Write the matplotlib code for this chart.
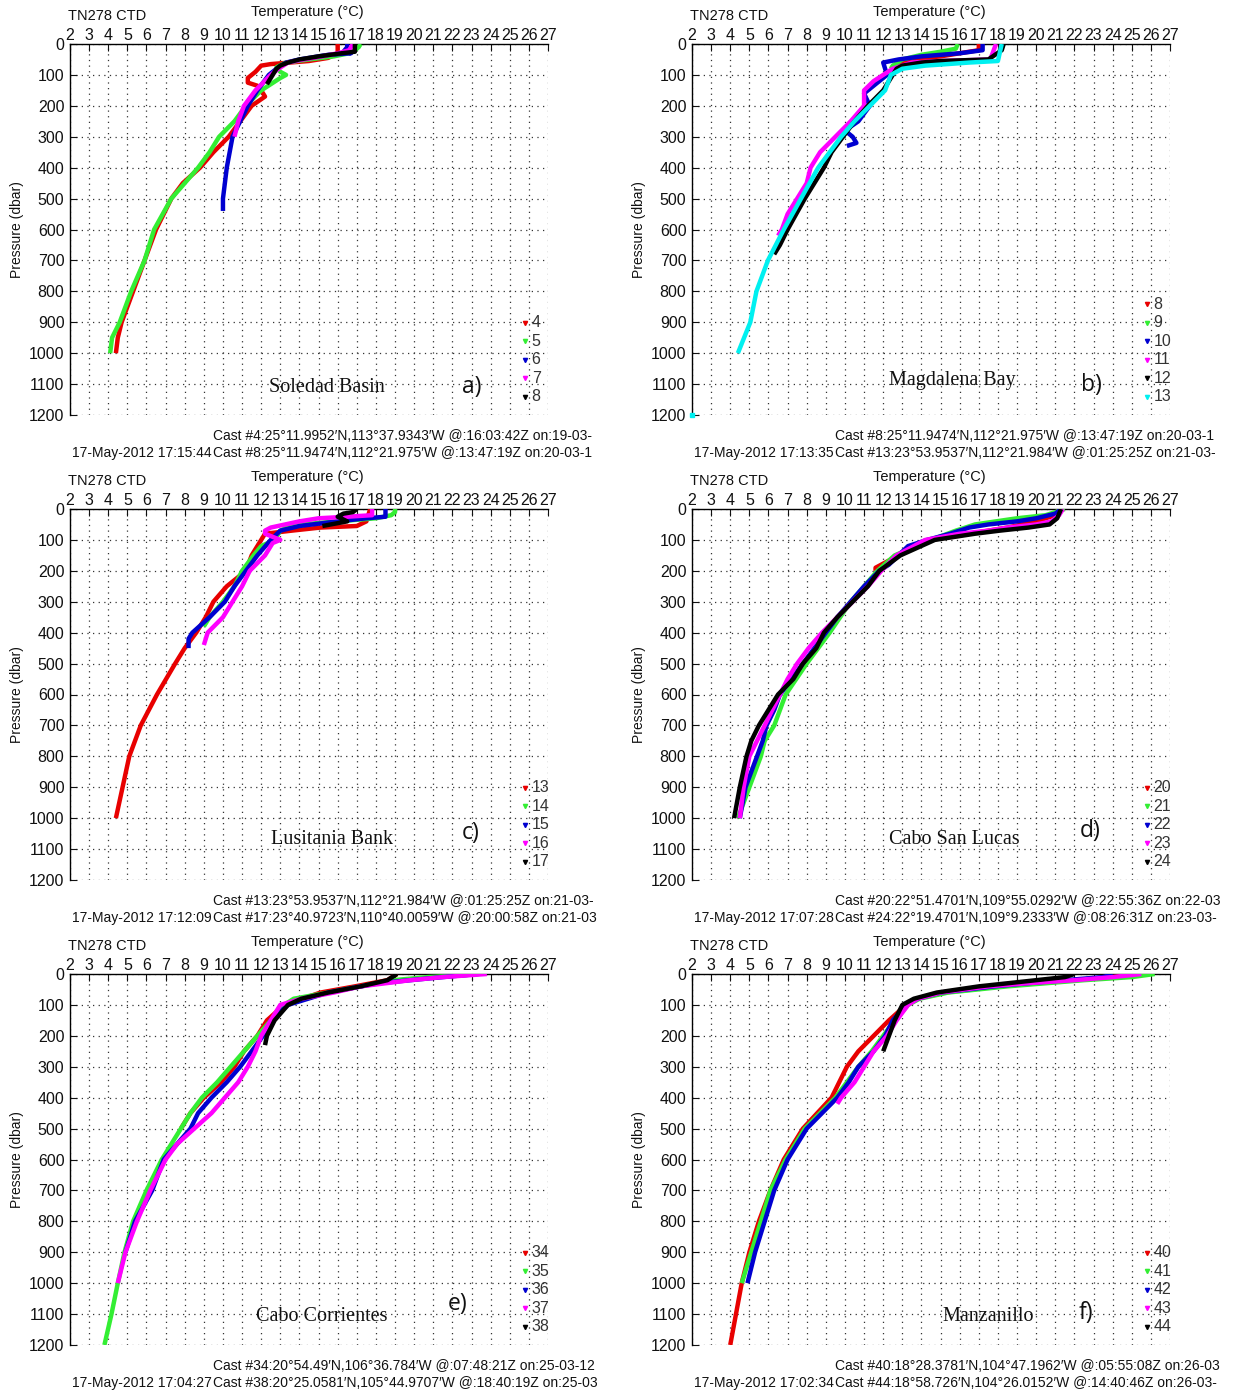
import matplotlib
matplotlib.use("Agg")
import matplotlib.pyplot as plt

W, H = 1243, 1394
SANS = ['Liberation Sans Narrow', 'Liberation Sans', 'DejaVu Sans']
SERIF = ['Liberation Serif', 'DejaVu Serif']
LETTER = ['Open Sans', 'DejaVu Sans']

COLORS = ['#e80000', '#33ee33', '#0000d0', '#ff00ff', '#000000', '#00f0f0']

TEMP_TICKS = list(range(2, 28))
PRES_TICKS = list(range(0, 1201, 100))

# ---------------- Panel a : Soledad Basin ----------------
A_CASTS = ['4', '5', '6', '7', '8']
A_P = [
    [0, 10, 30, 45, 55, 60, 65, 70, 90, 110, 125, 135, 150, 170, 200, 250, 300, 350, 400, 450, 500, 550, 600, 650, 700, 800, 900, 950, 1000],
    [0, 10, 20, 30, 40, 50, 60, 75, 90, 100, 110, 150, 200, 250, 300, 350, 400, 500, 600, 700, 800, 900, 950, 1000],
    [0, 10, 25, 30, 35, 50, 60, 80, 100, 150, 200, 250, 300, 350, 400, 450, 500, 540],
    [0, 20, 30, 40, 50, 60, 80, 100, 150, 200, 250, 300],
    [0, 25, 30, 40, 50, 60, 70, 80, 100, 130],
]
A_T = [
    [16.0, 16.0, 16.0, 15.5, 14.5, 13.5, 12.5, 12.0, 11.7, 11.3, 11.3, 11.8, 12.0, 12.2, 11.5, 10.9, 10.3, 9.5, 8.8, 7.9, 7.3, 6.9, 6.5, 6.2, 5.9, 5.3, 4.7, 4.5, 4.4],
    [17.2, 17.1, 16.9, 16.6, 15.8, 14.5, 13.3, 12.8, 13.0, 13.3, 13.0, 12.0, 11.2, 10.6, 9.8, 9.3, 8.7, 7.3, 6.4, 5.9, 5.2, 4.6, 4.2, 4.1],
    [16.5, 16.5, 16.3, 16.7, 15.5, 14.0, 13.3, 12.8, 12.4, 11.8, 11.3, 10.9, 10.5, 10.35, 10.2, 10.1, 10.0, 10.0],
    [16.8, 16.6, 16.0, 15.2, 14.2, 13.4, 12.9, 12.5, 11.7, 11.1, 10.8, 10.6],
    [16.9, 16.9, 16.2, 15.0, 14.0, 13.4, 13.0, 12.8, 12.6, 12.3],
]

# ---------------- Panel b : Magdalena Bay ----------------
B_CASTS = ['8', '9', '10', '11', '12', '13']
B_P = [
    [0, 20, 25, 40, 50, 60, 80, 100],
    [0, 15, 25, 35, 50, 70, 80],
    [0, 20, 30, 40, 50, 60, 100, 130, 160, 200, 250, 280, 300, 320, 330],
    [0, 50, 55, 60, 80, 100, 120, 150, 200, 250, 300, 350, 400, 450, 500, 550, 600, 620],
    [0, 20, 50, 55, 60, 70, 80, 100, 150, 200, 250, 300, 350, 400, 500, 600, 650, 680],
    [0, 55, 60, 70, 80, 100, 150, 200, 250, 300, 400, 500, 600, 700, 800, 900, 1000],
]
B_T = [
    [17.0, 17.0, 16.5, 15.0, 13.5, 13.0, 12.5, 12.3],
    [15.9, 15.8, 15.0, 14.0, 13.0, 12.5, 12.4],
    [17.2, 17.2, 16.0, 14.0, 12.8, 12.0, 12.2, 11.6, 11.0, 11.3, 10.7, 10.0, 10.4, 10.6, 10.1],
    [17.9, 17.6, 15.0, 13.5, 12.5, 12.0, 11.5, 11.0, 11.0, 10.3, 9.5, 8.7, 8.2, 8.0, 7.5, 7.0, 6.7, 6.5],
    [18.3, 18.2, 17.5, 15.0, 14.0, 13.0, 12.7, 12.5, 12.0, 11.2, 10.5, 9.9, 9.3, 8.9, 7.9, 7.0, 6.6, 6.3],
    [18.2, 18.0, 16.5, 14.2, 13.0, 12.4, 12.1, 11.3, 10.5, 9.8, 8.6, 7.7, 6.8, 5.97, 5.37, 5.05, 4.4],
]
B_EXTRA_P = [1200]
B_EXTRA_T = [2.0]

# ---------------- Panel c : Lusitania Bank ----------------
C_CASTS = ['13', '14', '15', '16', '17']
C_P = [
    [0, 40, 55, 60, 70, 80, 100, 150, 200, 220, 250, 300, 350, 400, 450, 500, 600, 700, 800, 900, 1000],
    [0, 10, 20, 30, 35, 45, 55, 70, 100, 120, 150, 200, 250, 300, 350, 380],
    [0, 25, 30, 40, 55, 70, 100, 150, 200, 250, 300, 350, 400, 420, 450],
    [0, 20, 25, 30, 40, 60, 70, 80, 100, 110, 150, 200, 250, 300, 350, 400, 440],
    [0, 10, 15, 25, 40, 55],
]
C_T = [
    [17.7, 17.5, 17.0, 15.1, 13.6, 12.2, 12.0, 11.5, 11.2, 10.8, 10.2, 9.5, 9.1, 8.6, 8.0, 7.5, 6.55, 5.7, 5.1, 4.75, 4.4],
    [19.0, 19.0, 18.8, 18.0, 17.0, 15.0, 13.5, 13.0, 12.7, 12.0, 11.6, 11.0, 10.6, 10.0, 9.3, 9.0],
    [18.5, 18.5, 17.5, 16.0, 14.0, 13.0, 12.5, 11.8, 11.2, 10.6, 10.1, 9.3, 8.4, 8.2, 8.2],
    [17.8, 17.8, 16.5, 15.0, 14.0, 12.5, 12.2, 12.2, 13.0, 12.6, 12.2, 11.4, 11.0, 10.5, 10.0, 9.2, 9.0],
    [17.0, 16.8, 16.3, 16.0, 16.5, 15.2],
]

# ---------------- Panel d : Cabo San Lucas ----------------
D_CASTS = ['20', '21', '22', '23', '24']
D_P = [
    [0, 20, 40, 60, 80, 100, 150, 180, 190, 200],
    [0, 20, 30, 50, 70, 100, 150, 200, 300, 400, 500, 600, 700, 750, 800, 900, 1000],
    [0, 15, 30, 40, 50, 60, 80, 100, 120, 150, 180, 200, 250, 300, 350, 400, 450, 500, 550, 600, 650, 700, 750, 800, 900, 1000],
    [0, 20, 40, 50, 60, 70, 80, 100, 150, 200, 250, 300, 350, 400, 450, 500, 550, 600, 700, 800, 900, 1000],
    [0, 30, 50, 60, 70, 80, 100, 150, 200, 250, 300, 350, 400, 450, 500, 550, 600, 650, 700, 750, 800, 900, 1000],
]
D_T = [
    [21.2, 21.0, 20.0, 18.5, 16.5, 14.5, 12.8, 11.9, 11.6, 11.6],
    [21.5, 20.5, 19.0, 16.8, 15.8, 14.5, 12.6, 11.7, 10.3, 9.2, 8.0, 6.9, 6.3, 5.8, 5.6, 5.0, 4.4],
    [21.3, 21.0, 20.0, 19.0, 17.5, 16.5, 15.5, 14.3, 13.3, 12.8, 12.3, 11.8, 11.0, 10.3, 9.6, 9.0, 8.4, 7.8, 7.2, 6.6, 6.3, 5.9, 5.7, 5.4, 4.8, 4.5],
    [21.4, 21.2, 20.8, 20.0, 18.5, 17.5, 16.0, 14.2, 12.7, 11.9, 11.2, 10.4, 9.6, 8.8, 8.1, 7.5, 7.0, 6.6, 5.8, 5.0, 4.7, 4.5],
    [21.3, 21.1, 20.7, 19.6, 18.1, 16.8, 14.7, 12.9, 11.8, 11.2, 10.4, 9.6, 8.9, 8.5, 7.8, 7.3, 6.5, 6.0, 5.5, 5.1, 4.85, 4.5, 4.2],
]

# ---------------- Panel e : Cabo Corrientes ----------------
E_CASTS = ['34', '35', '36', '37', '38']
E_P = [
    [0, 20, 40, 60, 100, 150, 200, 250, 300, 350, 400, 450, 500],
    [0, 5, 10, 20, 40, 60, 80, 100, 150, 200, 250, 300, 350, 400, 450, 500, 550, 600, 700, 800, 900, 1000, 1100, 1200],
    [0, 10, 30, 60, 100, 150, 200, 250, 300, 350, 400, 450, 500, 600, 700, 800, 900],
    [0, 10, 20, 40, 60, 80, 100, 150, 200, 250, 300, 350, 400, 450, 500, 550, 600, 700, 800, 900, 1000],
    [0, 20, 40, 60, 80, 100, 150, 200, 230],
]
E_T = [
    [19.1, 18.6, 16.9, 15.1, 13.2, 12.3, 11.8, 11.1, 10.6, 9.9, 9.0, 8.3, 7.8],
    [23.4, 22.4, 20.7, 18.9, 17.2, 15.5, 13.7, 13.2, 12.5, 11.8, 11.1, 10.4, 9.7, 8.9, 8.3, 7.8, 7.3, 6.8, 6.0, 5.3, 4.85, 4.5, 4.17, 3.8],
    [23.3, 21.5, 18.1, 15.5, 13.4, 12.5, 12.1, 11.5, 10.9, 10.2, 9.4, 8.7, 8.3, 6.9, 6.3, 5.4, 4.9],
    [23.8, 21.5, 19.8, 17.2, 15.8, 14.1, 13.0, 12.5, 12.0, 11.7, 11.3, 10.8, 10.1, 9.4, 8.5, 7.6, 7.0, 6.2, 5.5, 4.9, 4.5],
    [19.1, 18.6, 17.2, 15.5, 14.1, 13.4, 12.7, 12.3, 12.2],
]

# ---------------- Panel f : Manzanillo ----------------
F_CASTS = ['40', '41', '42', '43', '44']
F_P = [
    [0, 10, 20, 30, 40, 60, 80, 100, 150, 200, 250, 300, 350, 400, 500, 600, 700, 800, 900, 1000, 1100, 1200],
    [0, 10, 20, 30, 40, 60, 80, 100, 150, 200, 250, 300, 350, 400, 500, 600, 700, 800, 900, 1000],
    [0, 10, 20, 30, 40, 60, 80, 100, 150, 200, 250, 300, 350, 400, 500, 600, 700, 800, 900, 1000],
    [0, 10, 20, 30, 40, 60, 80, 100, 150, 200, 250, 300, 350, 400, 420],
    [0, 10, 20, 30, 40, 60, 80, 100, 150, 200, 250],
]
F_T = [
    [25.5, 24.0, 22.0, 20.0, 18.0, 15.2, 13.8, 13.2, 12.3, 11.5, 10.7, 10.1, 9.7, 9.3, 7.8, 6.8, 6.1, 5.5, 5.0, 4.6, 4.3, 4.0],
    [26.2, 25.0, 22.5, 20.5, 18.5, 15.4, 13.9, 13.3, 12.6, 12.0, 11.4, 10.7, 10.1, 9.5, 7.9, 6.9, 6.1, 5.6, 5.1, 4.6],
    [24.0, 23.5, 21.5, 19.5, 17.8, 15.0, 13.8, 13.2, 12.5, 12.1, 11.5, 10.7, 10.2, 9.6, 8.0, 7.0, 6.3, 5.8, 5.3, 4.9],
    [25.5, 24.0, 22.0, 19.5, 17.5, 15.0, 13.8, 13.3, 12.7, 12.2, 11.5, 11.0, 10.5, 9.8, 9.6],
    [22.0, 21.5, 20.0, 18.5, 17.0, 14.8, 13.6, 13.0, 12.6, 12.3, 12.0],
]

PANELS = [
    dict(casts=A_CASTS, P=A_P, T=A_T, name='Soledad Basin', letter='a)',
         cast1='Cast #4:25°11.9952′N,113°37.9343′W @:16:03:42Z on:19-03-',
         date='17-May-2012 17:15:44',
         cast2='Cast #8:25°11.9474′N,112°21.975′W @:13:47:19Z on:20-03-1'),
    dict(casts=B_CASTS, P=B_P, T=B_T, name='Magdalena Bay', letter='b)',
         cast1='Cast #8:25°11.9474′N,112°21.975′W @:13:47:19Z on:20-03-1',
         date='17-May-2012 17:13:35',
         cast2='Cast #13:23°53.9537′N,112°21.984′W @:01:25:25Z on:21-03-'),
    dict(casts=C_CASTS, P=C_P, T=C_T, name='Lusitania Bank', letter='c)',
         cast1='Cast #13:23°53.9537′N,112°21.984′W @:01:25:25Z on:21-03-',
         date='17-May-2012 17:12:09',
         cast2='Cast #17:23°40.9723′N,110°40.0059′W @:20:00:58Z on:21-03'),
    dict(casts=D_CASTS, P=D_P, T=D_T, name='Cabo San Lucas', letter='d)',
         cast1='Cast #20:22°51.4701′N,109°55.0292′W @:22:55:36Z on:22-03',
         date='17-May-2012 17:07:28',
         cast2='Cast #24:22°19.4701′N,109°9.2333′W @:08:26:31Z on:23-03-'),
    dict(casts=E_CASTS, P=E_P, T=E_T, name='Cabo Corrientes', letter='e)',
         cast1='Cast #34:20°54.49′N,106°36.784′W @:07:48:21Z on:25-03-12',
         date='17-May-2012 17:04:27',
         cast2='Cast #38:20°25.0581′N,105°44.9707′W @:18:40:19Z on:25-03'),
    dict(casts=F_CASTS, P=F_P, T=F_T, name='Manzanillo', letter='f)',
         cast1='Cast #40:18°28.3781′N,104°47.1962′W @:05:55:08Z on:26-03',
         date='17-May-2012 17:02:34',
         cast2='Cast #44:18°58.726′N,104°26.0152′W @:14:40:46Z on:26-03-'),
]

# layout (pixels)
COL_LEFT = [70, 692]
ROW_TOP = [44, 509, 974]
AX_W, AX_H = 478, 371
NAME_POS = [(0.538, 0.927), (0.544, 0.906), (0.548, 0.892), (0.548, 0.892), (0.527, 0.922), (0.619, 0.922)]
LETTER_POS = [(0.841, 0.925), (0.835, 0.918), (0.839, 0.872), (0.833, 0.867), (0.810, 0.890), (0.824, 0.913)]
FOOT_SIZE = 10.0

fig = plt.figure(figsize=(W / 100, H / 100), dpi=100)
fig.patch.set_facecolor('white')


def ftext(x, y, s, **kw):
    fig.text(x / W, 1 - y / H, s, **kw)


for i, pan in enumerate(PANELS):
    r, c = divmod(i, 2)
    left, top = COL_LEFT[c], ROW_TOP[r]
    ax = fig.add_axes([left / W, 1 - (top + AX_H) / H, AX_W / W, AX_H / H])
    for k, (p, t) in enumerate(zip(pan['P'], pan['T'])):
        ax.plot(t, p, color=COLORS[k], lw=3.2, solid_capstyle='butt', zorder=3 + k * 0.01)
    if i == 1:
        ax.plot(B_EXTRA_T, B_EXTRA_P, 's', color=COLORS[5], ms=3, clip_on=False, zorder=4)
    ax.set_xlim(2, 27)
    ax.set_ylim(1200, 0)
    ax.xaxis.tick_top()
    ax.xaxis.set_label_position('top')
    ax.set_xticks(TEMP_TICKS)
    ax.set_yticks(PRES_TICKS)
    ax.tick_params(axis='x', direction='in', length=5, width=0.8, pad=1, labelsize=11.5, colors='#111111')
    ax.tick_params(axis='y', direction='in', length=5, width=0.8, pad=4, labelsize=11.5, colors='#111111')
    for lab in ax.get_xticklabels() + ax.get_yticklabels():
        lab.set_family(SANS)
    ax.grid(True, color='#333333', linestyle=(0, (1, 3.5)), lw=0.9)
    for sp in ['right', 'bottom']:
        ax.spines[sp].set_visible(False)
    for sp in ['top', 'left']:
        ax.spines[sp].set_linewidth(1.0)
    ax.set_axisbelow(True)

    # legend
    n = len(pan['casts'])
    for k, lab in enumerate(pan['casts']):
        yy = 0.049 + (n - 1 - k) * 0.0500
        ax.plot([0.952], [yy], marker='v', ms=3, color=COLORS[k], transform=ax.transAxes, clip_on=False, zorder=6)
        ax.text(0.966, yy, lab, transform=ax.transAxes, ha='left', va='center',
                fontsize=11.5, family=SANS, color='#333333')

    ax.text(NAME_POS[i][0], 1 - NAME_POS[i][1], pan['name'], transform=ax.transAxes,
            ha='center', va='center', fontsize=14.5, family=SERIF, color='#111111')
    ax.text(LETTER_POS[i][0], 1 - LETTER_POS[i][1], pan['letter'], transform=ax.transAxes,
            ha='center', va='center', fontsize=16.5, family=LETTER, color='#111111')

    # headers
    ftext(left - 2, top - 28, 'TN278 CTD', ha='left', va='center', fontsize=10.5, family=SANS, color='#111111')
    ftext(left + 237, top - 32, 'Temperature (°C)', ha='center', va='center', fontsize=10.5, family=SANS, color='#111111')
    ftext(left - 53, top + 186, 'Pressure (dbar)', ha='center', va='center', rotation=90, fontsize=10, family=SANS, color='#111111')
    # footers
    ftext(left + 143, top + AX_H + 21, pan['cast1'], ha='left', va='center', fontsize=FOOT_SIZE, family=SANS, color='#111111')
    ftext(left + 142, top + AX_H + 38, pan['date'], ha='right', va='center', fontsize=FOOT_SIZE, family=SANS, color='#111111')
    ftext(left + 143, top + AX_H + 38, pan['cast2'], ha='left', va='center', fontsize=FOOT_SIZE, family=SANS, color='#111111')

fig.savefig('out.png', dpi=100, facecolor='white')
